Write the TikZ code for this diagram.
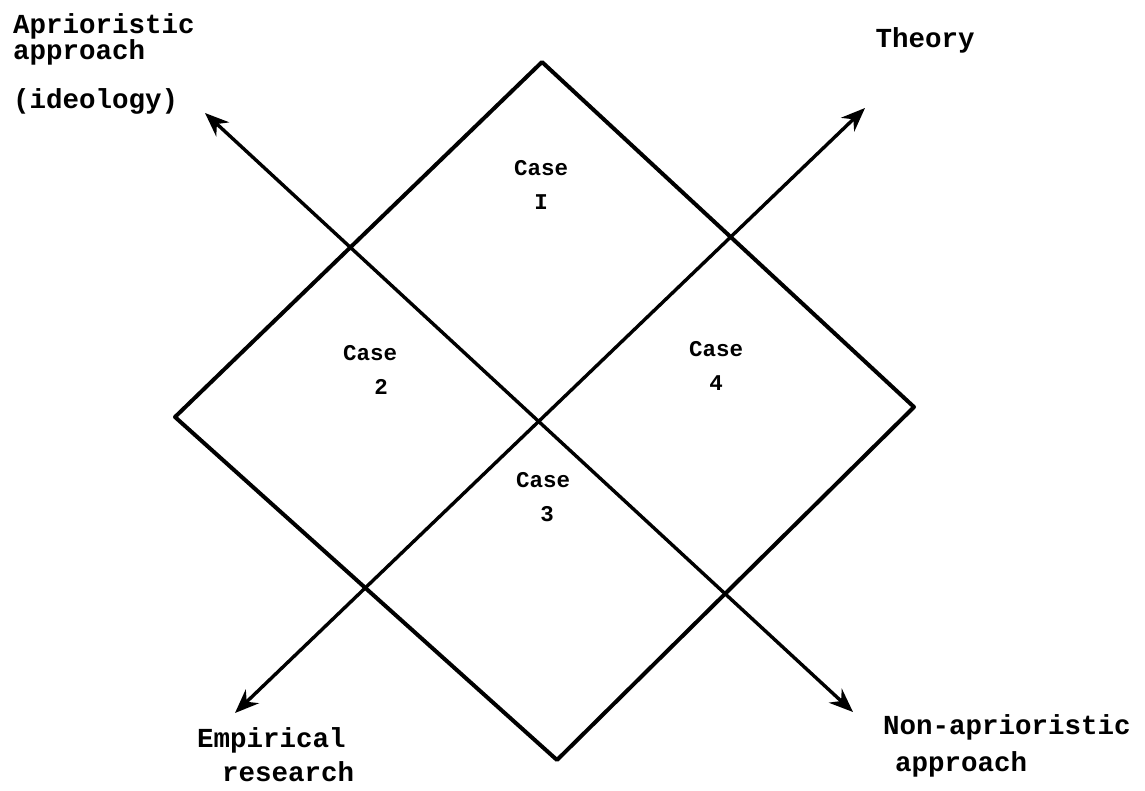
\documentclass[tikz,border=0pt]{standalone}
\usepackage{fontspec}
\setmonofont{Liberation Mono}
\usetikzlibrary{arrows.meta}
\begin{document}
\begin{tikzpicture}[x=1pt, y=-1pt,
    edge/.style={line width=4pt, line join=round},
    axis/.style={line width=3.4pt, {Stealth[length=24pt, width=19pt]}-{Stealth[length=24pt, width=19pt]}},
    label/.style={font=\ttfamily\bfseries\fontsize{27.5}{21}\selectfont, align=left, inner sep=0pt},
    case/.style={font=\ttfamily\bfseries\fontsize{22.5}{34}\selectfont, align=center, inner sep=0pt}
]
    \useasboundingbox (0,0) rectangle (1145,790);

    % corners of the square
    \coordinate (top) at (542,62);
    \coordinate (left) at (175,417);
    \coordinate (bottom) at (557,760);
    \coordinate (right) at (914,407);
    \draw[edge] (top) -- (right) -- (bottom) -- (left) -- cycle;

    % the two axes
    \coordinate (emp) at (235,713);
    \coordinate (theo) at (865,108);
    \coordinate (apr) at (205,113);
    \coordinate (nonapr) at (853,712);
    \draw[axis] (emp) -- (theo);
    \draw[axis] (apr) -- (nonapr);

    % axis labels
    \node[label, anchor=north west] (aprlabel) at (13,13) {Aprioristic\\approach\\[22pt](ideology)};
    \node[label] (theolabel) at (925,40) {Theory};
    \node[label, anchor=west] (emplabel) at (197,740) {Empirical};
    \node[label, anchor=west] (emplabel2) at (222,772) {research};
    \node[label, anchor=west] (nonaprlabel) at (883,727) {Non-aprioristic};
    \node[label, anchor=west] (nonaprlabel2) at (895,764) {approach};

    % the four cases
    \node[case] (case1) at (541,185) {Case\\I};
    \node[case] (case2) at (370,370) {Case\\\hspace*{22pt}2};
    \node[case] (case4) at (716,366) {Case\\4};
    \node[case] (case3) at (543,497) {Case\\\hspace*{8pt}3};
\end{tikzpicture}
\end{document}
